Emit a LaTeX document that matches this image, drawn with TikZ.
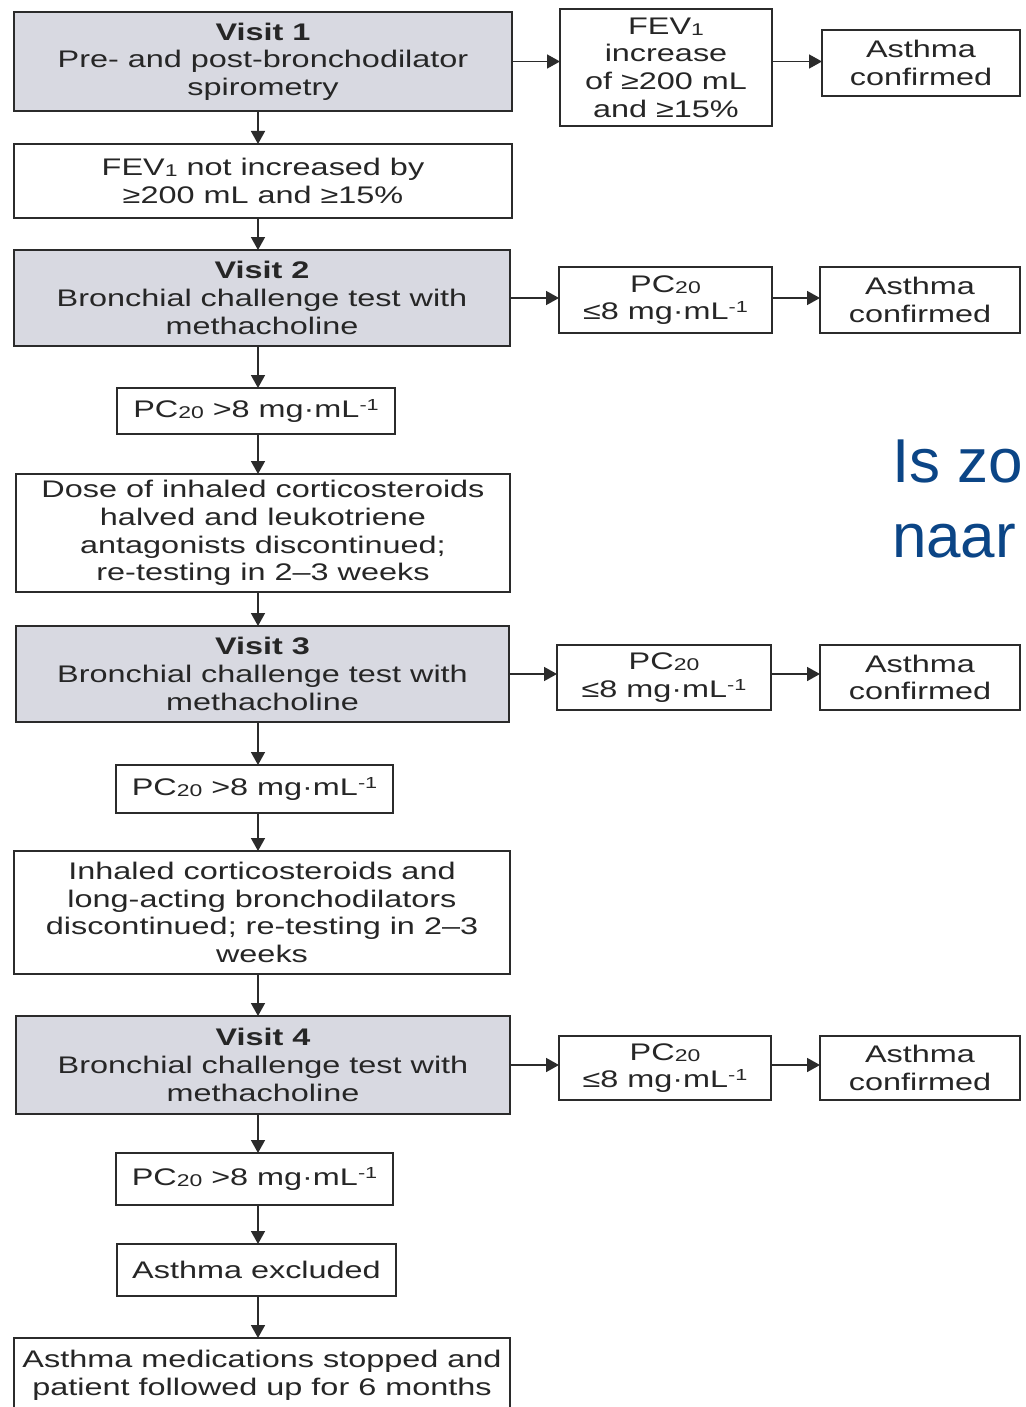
\documentclass[tikz,border=0pt]{standalone}
\usepackage{fontspec}
\setmainfont{Liberation Sans}[FakeStretch=1.35]
\newfontfamily\bluefont{Liberation Sans}
\usetikzlibrary{arrows.meta}
\definecolor{linec}{HTML}{2B2B2B}
\definecolor{visitc}{HTML}{D8D9E1}
\definecolor{bluec}{HTML}{0B4586}
\newcommand{\fs}{\fontsize{24}{27.6}\selectfont}
\newcommand{\sbs}[1]{\raisebox{-1pt}{\fontsize{17}{17}\selectfont #1}}
\newcommand{\sps}[1]{\raisebox{7pt}{\fontsize{16}{16}\selectfont #1}}
\newcommand{\bx}[7]{\node[#6, minimum width={(#4-#2)*1pt}, minimum height={(#5-#3)*1pt}] (#1) at ({(#2+#4)/2},{(#3+#5)/2}) {#7};}
\begin{document}
\begin{tikzpicture}[x=1pt,y=-1pt,
  every node/.style={inner sep=0pt, outer sep=0pt},
  boxw/.style={draw=linec, line width=1.5pt, fill=white, align=center, font=\fs, text=black!85},
  boxg/.style={boxw, fill=visitc},
  arr/.style={draw=linec, line width=1.6pt, -{Triangle[length=13pt,width=14pt]}}]
\useasboundingbox (0,0) rectangle (1025,1407);
\fill[white] (0,0) rectangle (1025,1407);
\clip (0,0) rectangle (1025,1407);
\coordinate (ax) at (258,0);
% row 1
\bx{v1}{14}{12}{512}{111}{boxg}{\textbf{Visit 1}\\Pre- and post-bronchodilator\\spirometry}
\bx{f1}{560}{9}{772}{126}{boxw}{FEV\sbs{1}\\increase\\of ≥200 mL\\and ≥15\%}
\bx{a1}{822}{30}{1020}{96}{boxw}{Asthma\\confirmed}
\bx{n1}{14}{144}{512}{218}{boxw}{FEV\sbs{1} not increased by\\≥200 mL and ≥15\%}
% row 2
\bx{v2}{14}{250}{510}{346}{boxg}{\textbf{Visit 2}\\Bronchial challenge test with\\methacholine}
\bx{p2}{559}{267}{772}{333}{boxw}{PC\sbs{20}\\≤8 mg·mL\sps{-1}}
\bx{a2}{820}{267}{1020}{333}{boxw}{Asthma\\confirmed}
\bx{g2}{117}{388}{395}{434}{boxw}{PC\sbs{20} >8 mg·mL\sps{-1}}
\bx{d2}{16}{474}{510}{592}{boxw}{Dose of inhaled corticosteroids\\halved and leukotriene\\antagonists discontinued;\\re-testing in 2--3 weeks}
% row 3
\bx{v3}{16}{626}{509}{722}{boxg}{\textbf{Visit 3}\\Bronchial challenge test with\\methacholine}
\bx{p3}{557}{645}{771}{710}{boxw}{PC\sbs{20}\\≤8 mg·mL\sps{-1}}
\bx{a3}{820}{645}{1020}{710}{boxw}{Asthma\\confirmed}
\bx{g3}{116}{765}{393}{813}{boxw}{PC\sbs{20} >8 mg·mL\sps{-1}}
\bx{d3}{14}{851}{510}{974}{boxw}{Inhaled corticosteroids and\\long-acting bronchodilators\\discontinued; re-testing in 2--3\\weeks}
% row 4
\bx{v4}{16}{1016}{510}{1114}{boxg}{\textbf{Visit 4}\\Bronchial challenge test with\\methacholine}
\bx{p4}{559}{1036}{771}{1100}{boxw}{PC\sbs{20}\\≤8 mg·mL\sps{-1}}
\bx{a4}{820}{1036}{1020}{1100}{boxw}{Asthma\\confirmed}
\bx{g4}{116}{1153}{393}{1205}{boxw}{PC\sbs{20} >8 mg·mL\sps{-1}}
\bx{ex}{117}{1244}{396}{1296}{boxw}{Asthma excluded}
\bx{md}{14}{1338}{510}{1412}{boxw}{Asthma medications stopped and\\patient followed up for 6 months}
% vertical arrows
\foreach \a/\b in {v1/n1,n1/v2,v2/g2,g2/d2,d2/v3,v3/g3,g3/d3,d3/v4,v4/g4,g4/ex,ex/md}{
  \draw[arr] (\a.south -| ax) -- (\b.north -| ax);
}
% horizontal arrows
\foreach \v/\p/\q in {v1/f1/a1,v2/p2/a2,v3/p3/a3,v4/p4/a4}{
  \draw[arr] (\v.east) -- (\v.east -| \p.west);
  \draw[arr] (\p.east |- \v.east) -- (\v.east -| \q.west);
}
% overlay text
\node[anchor=base west, font=\bluefont\fontsize{62}{75}\selectfont, text=bluec] (t1) at (892,482) {Is zo};
\node[anchor=base west, font=\bluefont\fontsize{62}{75}\selectfont, text=bluec] (t2) at (892,557) {naar};
\end{tikzpicture}
\end{document}
